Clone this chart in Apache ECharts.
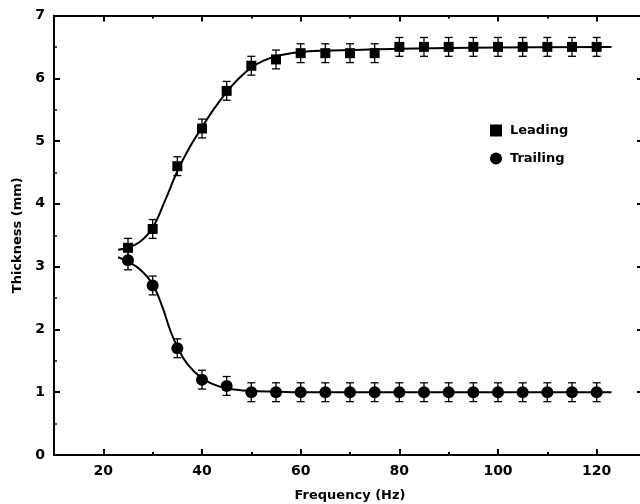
<!DOCTYPE html>
<html><head><meta charset="utf-8">
<script src="https://cdn.jsdelivr.net/npm/echarts@6/dist/echarts.min.js"></script>
<style>html,body{margin:0;padding:0;background:#fff}#c{width:640px;height:504px}</style>
</head><body><div id="c"></div>
<script>
var freq = [25,30,35,40,45,50,55,60,65,70,75,80,85,90,95,100,105,110,115,120];
var leading = [3.3,3.6,4.6,5.2,5.8,6.2,6.3,6.4,6.4,6.4,6.4,6.5,6.5,6.5,6.5,6.5,6.5,6.5,6.5,6.5];
var trailing = [3.1,2.7,1.7,1.2,1.1,1.0,1.0,1.0,1.0,1.0,1.0,1.0,1.0,1.0,1.0,1.0,1.0,1.0,1.0,1.0];
var errLeading = [0.15,0.15,0.15,0.15,0.15,0.15,0.15,0.15,0.15,0.15,0.15,0.15,0.15,0.15,0.15,0.15,0.15,0.15,0.15,0.15];
var errTrailing = [0.15,0.15,0.15,0.15,0.15,0.15,0.15,0.15,0.15,0.15,0.15,0.15,0.15,0.15,0.15,0.15,0.15,0.15,0.15,0.15];
// fitted curves
var fitLeadX = [23,25,27.5,30,32.5,35,37.5,40,42.5,45,47.5,50,52.5,55,57.5,60,65,70,80,100,123];
var fitLeadY = [3.27,3.3,3.4,3.62,4.05,4.52,4.9,5.22,5.52,5.78,6.0,6.17,6.28,6.35,6.39,6.42,6.44,6.45,6.47,6.49,6.5];
var fitTrailX = [23,25,27.5,30,32,33.5,35,37,40,42.5,45,50,55,60,80,123];
var fitTrailY = [3.15,3.08,2.95,2.72,2.35,2.0,1.72,1.45,1.22,1.12,1.06,1.02,1.01,1.0,1.0,1.0];
var xTicks = [20,40,60,80,100,120];
var xMinorTicks = [30,50,70,90,110];
var yTicks = [0,1,2,3,4,5,6,7];

function zip(a,b){return a.map(function(v,i){return [v,b[i]];});}
function errData(y,e){return freq.map(function(x,i){return [x,y[i]-e[i],y[i]+e[i]];});}
function errRender(params, api){
  var x = api.value(0);
  var lo = api.coord([x, api.value(1)]);
  var hi = api.coord([x, api.value(2)]);
  var w = 4;
  var st = {stroke:'#000', lineWidth:1.3};
  return {type:'group', children:[
    {type:'line', shape:{x1:lo[0],y1:lo[1],x2:hi[0],y2:hi[1]}, style:st},
    {type:'line', shape:{x1:lo[0]-w,y1:lo[1],x2:lo[0]+w,y2:lo[1]}, style:st},
    {type:'line', shape:{x1:hi[0]-w,y1:hi[1],x2:hi[0]+w,y2:hi[1]}, style:st}
  ]};
}
var font = '"DejaVu Sans", sans-serif';
var chart = echarts.init(document.getElementById('c'));
var axisLine = {show:true, lineStyle:{color:'#000', width:2}};
function xAx(pos, ticks, len, labels){
  var a = {
    type:'value', min:10, max:130, interval:10, position:pos,
    axisLine:axisLine,
    axisTick:{show:true, inside:true, length:len, customValues:ticks, lineStyle:{color:'#000', width:2}},
    axisLabel:{show:false}, splitLine:{show:false}
  };
  if (labels) {
    a.axisLabel = {show:true, customValues:xTicks, fontFamily:font, fontSize:14, fontWeight:'bold', color:'#000', margin:9};
    a.name = 'Frequency (Hz)'; a.nameLocation = 'middle'; a.nameGap = 34;
    a.nameTextStyle = {fontFamily:font, fontSize:13, fontWeight:'bold', color:'#000'};
  }
  return a;
}
chart.setOption({
  animation:false,
  grid:{left:54, top:15.5, width:592, height:439.5, outerBoundsMode:'none', containLabel:false},
  legend:{
    left:490, top:124, orient:'vertical', itemGap:15, itemWidth:12, itemHeight:12, padding:0,
    data:[{name:'Leading', icon:'rect'},{name:'Trailing', icon:'circle'}],
    textStyle:{fontFamily:font, fontSize:13, fontWeight:'bold', color:'#000', padding:[0,0,0,3]}
  },
  xAxis:[
    xAx('bottom', xTicks, 6, true),
    xAx('bottom', xMinorTicks, 3, false),
    xAx('top', xTicks, 6, false),
    xAx('top', xMinorTicks, 3, false)
  ],
  yAxis:[{
    type:'value', min:0, max:7, interval:1, position:'left',
    name:'Thickness (mm)', nameLocation:'middle', nameGap:30, nameRotate:90,
    nameTextStyle:{fontFamily:font, fontSize:13, fontWeight:'bold', color:'#000'},
    axisLine:axisLine,
    axisTick:{show:true, inside:true, length:6, lineStyle:{color:'#000', width:2}},
    minorTick:{show:true, splitNumber:2, length:3, lineStyle:{color:'#000', width:1.5}},
    axisLabel:{fontFamily:font, fontSize:14, fontWeight:'bold', color:'#000', margin:9,
      formatter:function(v){return yTicks.indexOf(v)>=0 ? String(v) : '';}},
    splitLine:{show:false}
  },{
    type:'value', min:0, max:7, interval:1, position:'right',
    axisLine:axisLine,
    axisTick:{show:true, inside:true, length:9, lineStyle:{color:'#000', width:2}},
    minorTick:{show:true, splitNumber:2, length:3, lineStyle:{color:'#000', width:1.5}},
    axisLabel:{show:false}, splitLine:{show:false}
  }],
  series:[
    {type:'line', data:zip(fitLeadX,fitLeadY), smooth:0.4, showSymbol:false, symbol:'none',
      lineStyle:{color:'#000', width:2}, silent:true},
    {type:'line', data:zip(fitTrailX,fitTrailY), smooth:0.4, showSymbol:false, symbol:'none',
      lineStyle:{color:'#000', width:2}, silent:true},
    {type:'custom', data:errData(leading,errLeading), renderItem:errRender, encode:{x:0,y:[1,2]}, z:3},
    {type:'custom', data:errData(trailing,errTrailing), renderItem:errRender, encode:{x:0,y:[1,2]}, z:3},
    {name:'Leading', type:'scatter', data:zip(freq,leading), symbol:'rect', symbolSize:10,
      itemStyle:{color:'#000', opacity:1}, z:4},
    {name:'Trailing', type:'scatter', data:zip(freq,trailing), symbol:'circle', symbolSize:12,
      itemStyle:{color:'#000', opacity:1}, z:4}
  ]
});
</script></body></html>
